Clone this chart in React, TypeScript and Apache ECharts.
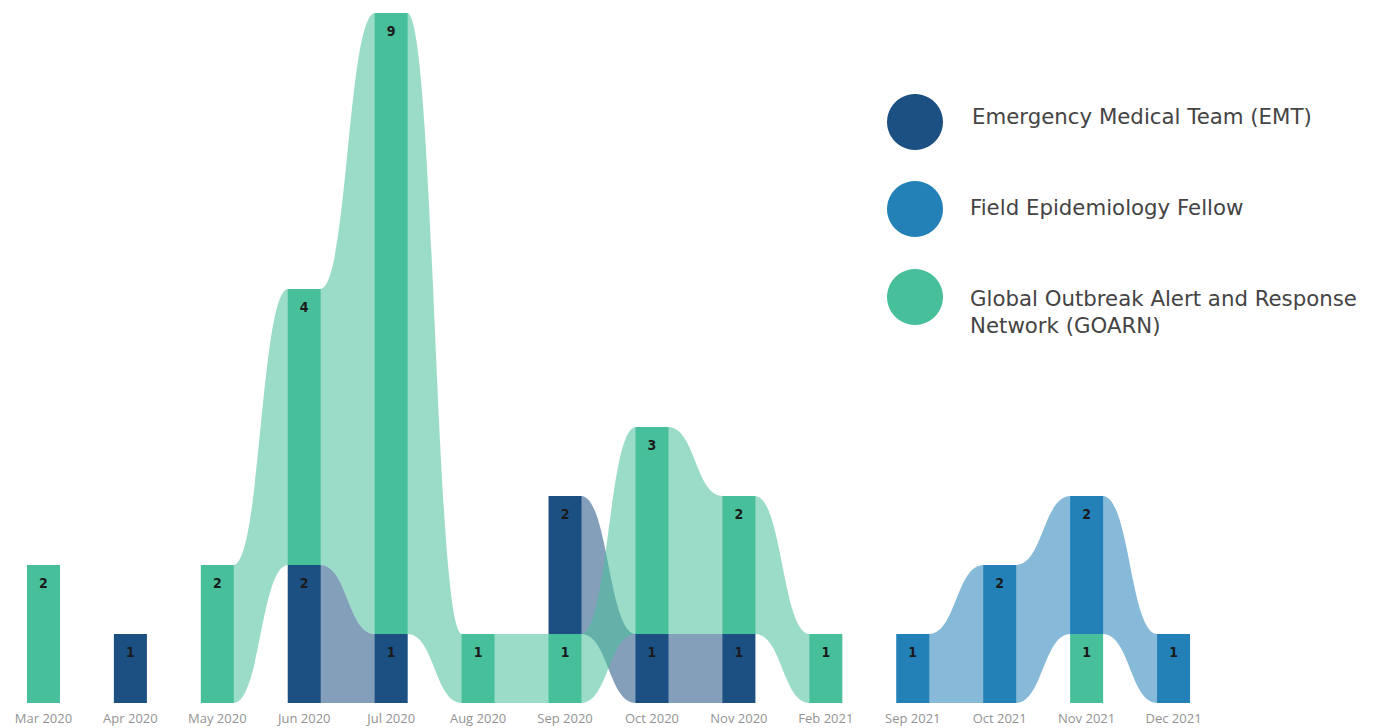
import React, { useEffect, useRef } from "react";
import * as echarts from "echarts";

const categories = [
  "Mar 2020", "Apr 2020", "May 2020", "Jun 2020", "Jul 2020", "Aug 2020", "Sep 2020",
  "Oct 2020", "Nov 2020", "Feb 2021", "Sep 2021", "Oct 2021", "Nov 2021", "Dec 2021",
];
const seriesNames = [
  "Emergency Medical Team (EMT)",
  "Field Epidemiology Fellow",
  "Global Outbreak Alert and Response Network (GOARN)",
];
const emtValues = [0, 1, 0, 2, 1, 0, 2, 1, 1, 0, 0, 0, 0, 0];
const fieldEpiValues = [0, 0, 0, 0, 0, 0, 0, 0, 0, 0, 1, 2, 2, 1];
const goarnValues = [2, 0, 2, 4, 9, 1, 1, 3, 2, 1, 0, 0, 1, 0];
const colors = ["#1d5082", "#2381b8", "#48bf9b"];

const BAR_RATIO = 0.38;

export default function App() {
  const ref = useRef<HTMLDivElement>(null);

  useEffect(() => {
    document.body.style.margin = "0";
    const chart = echarts.init(ref.current!, null, { renderer: "svg" });
    const all = [emtValues, fieldEpiValues, goarnValues];

    // stacked positions per category: rank ascending, largest on top
    const pos: Array<Array<[number, number] | null>> = all.map(() => categories.map(() => null));
    categories.forEach((_, ci) => {
      const items = all
        .map((arr, si) => ({ si, v: arr[ci] }))
        .filter((d) => d.v > 0)
        .sort((a, b) => a.v - b.v);
      let acc = 0;
      items.forEach((d) => {
        pos[d.si][ci] = [acc, acc + d.v];
        acc += d.v;
      });
    });

    const barSeries = all.map((arr, si) => ({
      type: "custom",
      name: seriesNames[si],
      z: 3,
      encode: { x: 0, y: [1, 2] },
      data: categories
        .map((_, ci) => (pos[si][ci] ? [ci, pos[si][ci]![0], pos[si][ci]![1], arr[ci]] : null))
        .filter((d) => d !== null),
      renderItem: (params: any, api: any) => {
        const x = api.value(0);
        const pTop = api.coord([x, api.value(2)]);
        const pBot = api.coord([x, api.value(1)]);
        const bw = api.size([1, 0])[0] * BAR_RATIO;
        return {
          type: "group",
          children: [
            {
              type: "rect",
              shape: { x: pTop[0] - bw / 2, y: pTop[1], width: bw, height: pBot[1] - pTop[1] },
              style: { fill: colors[si] },
            },
            {
              type: "text",
              style: {
                text: String(api.value(3)),
                x: pTop[0],
                y: pTop[1] + 18,
                align: "center",
                verticalAlign: "middle",
                fill: "#1a1a1a",
                fontSize: 14,
                fontWeight: "bold",
                fontFamily: "'DejaVu Sans Condensed', 'DejaVu Sans', sans-serif",
              },
            },
          ],
        };
      },
    }));

    const ribbonSeries = all.map((arr, si) => {
      const data: number[][] = [];
      for (let ci = 0; ci < categories.length - 1; ci++) {
        const a = pos[si][ci];
        const b = pos[si][ci + 1];
        if (a && b) data.push([ci, a[0], a[1], b[0], b[1]]);
      }
      return {
        type: "custom",
        name: seriesNames[si] + " ribbon",
        z: 1,
        silent: true,
        data,
        renderItem: (params: any, api: any) => {
          const i = api.value(0);
          const bw = api.size([1, 0])[0] * BAR_RATIO;
          const t1 = api.coord([i, api.value(2)]);
          const b1 = api.coord([i, api.value(1)]);
          const t2 = api.coord([i + 1, api.value(4)]);
          const b2 = api.coord([i + 1, api.value(3)]);
          const x1 = t1[0] + bw / 2 - 0.5;
          const x2 = t2[0] - bw / 2 + 0.5;
          const xm = (x1 + x2) / 2;
          const d =
            `M${x1} ${t1[1]} C${xm} ${t1[1]} ${xm} ${t2[1]} ${x2} ${t2[1]} ` +
            `L${x2} ${b2[1]} C${xm} ${b2[1]} ${xm} ${b1[1]} ${x1} ${b1[1]} Z`;
          return {
            type: "path",
            shape: { pathData: d },
            style: { fill: colors[si], opacity: 0.55 },
          };
        },
      };
    });

    const legendFont = "'DejaVu Sans', sans-serif";
    const legendSize = 21.3;
    chart.setOption({
      animation: false,
      backgroundColor: "#ffffff",
      grid: { left: 0, right: 162, top: 13, bottom: 25 },
      xAxis: {
        type: "category",
        data: categories,
        boundaryGap: true,
        axisLine: { show: false },
        axisTick: { show: false },
        axisLabel: {
          color: "#939393",
          fontSize: 13,
          margin: 8,
          interval: 0,
          fontFamily: "'Open Sans', sans-serif",
        },
      },
      yAxis: { type: "value", min: 0, max: 10, show: false, splitLine: { show: false } },
      series: [...ribbonSeries, ...barSeries],
      graphic: [
        { type: "circle", shape: { cx: 915, cy: 122, r: 28 }, style: { fill: colors[0] } },
        { type: "circle", shape: { cx: 915, cy: 209, r: 28 }, style: { fill: colors[1] } },
        { type: "circle", shape: { cx: 915, cy: 297, r: 28 }, style: { fill: colors[2] } },
        {
          type: "text",
          x: 972,
          y: 116,
          style: { text: seriesNames[0], fill: "#444444", fontSize: legendSize, fontFamily: legendFont, align: "left", verticalAlign: "middle" },
        },
        {
          type: "text",
          x: 970,
          y: 207,
          style: { text: seriesNames[1], fill: "#444444", fontSize: legendSize, fontFamily: legendFont, align: "left", verticalAlign: "middle" },
        },
        {
          type: "text",
          x: 970,
          y: 284.5,
          style: {
            text: "Global Outbreak Alert and Response\nNetwork (GOARN)",
            fill: "#444444",
            fontSize: legendSize,
            lineHeight: 27,
            fontFamily: legendFont,
            align: "left",
            verticalAlign: "top",
          },
        },
      ],
    });
    return () => chart.dispose();
  }, []);

  return <div ref={ref} style={{ width: 1379, height: 728 }} />;
}
